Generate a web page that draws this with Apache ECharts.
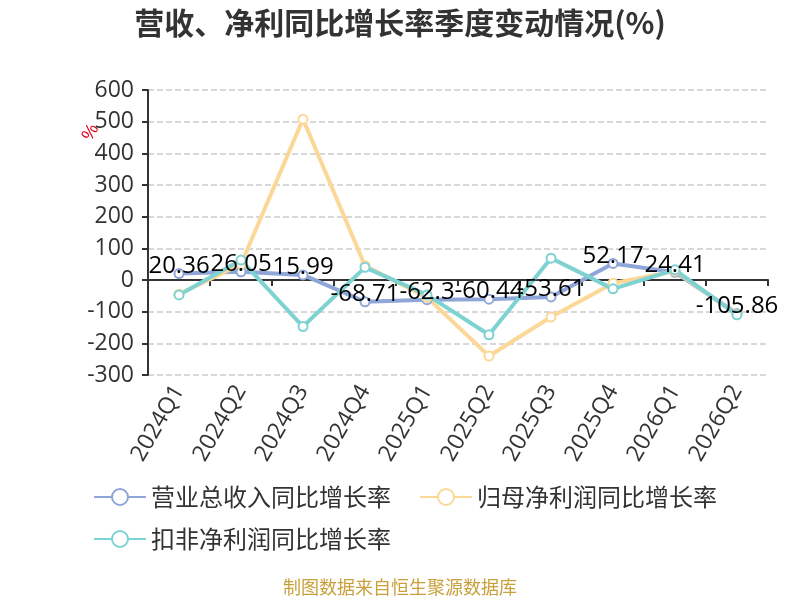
<!DOCTYPE html>
<html>
<head>
<meta charset="utf-8">
<script src="https://cdn.jsdelivr.net/npm/echarts@6/dist/echarts.min.js"></script>
<style>
html,body{margin:0;padding:0;background:#fff;}
#main{width:800px;height:600px;}
</style>
</head>
<body>
<div id="main"></div>
<script>
var quarters=['2024Q1','2024Q2','2024Q3','2024Q4','2025Q1','2025Q2','2025Q3','2025Q4','2026Q1','2026Q2'];
var revenueYoy=[20.36,26.05,15.99,-68.71,-62.3,-60.44,-53.61,52.17,24.41,-105.86];
var netProfitYoy=[-45,50,508,45,-55,-240,-117,-10,28,-108];
var deductedYoy=[-47,63,-147,40,-47,-173,69,-28,32,-110];
var yTicks={min:-300,max:600,interval:100};

var chart=echarts.init(document.getElementById('main'));

function lineSeries(name,data,color,showLabel){
	return {
		name:name,
		type:'line',
		data:data,
		symbol:'emptyCircle',
		symbolSize:9,
		lineStyle:{width:4,color:color},
		itemStyle:{color:color,borderWidth:1.5},
		label:{
			show:showLabel,
			position:'top',
			distance:-10,
			color:'#000',
			fontSize:24,
			fontFamily:'Open Sans'
		}
	};
}

var legendText={fontSize:24,color:'#333',fontFamily:'Noto Sans CJK SC'};

var option={
	animation:false,
	backgroundColor:'#fff',
	title:{
		text:'营收、净利同比增长率季度变动情况(%)',
		left:'center',
		top:3,
		textStyle:{fontSize:30,fontWeight:'bold',color:'#333',fontFamily:'Noto Sans CJK SC'}
	},
	legend:[
		{
			left:88,
			top:480,
			itemWidth:52,
			itemHeight:20,
			itemGap:28,
			textStyle:legendText,
			data:['营业总收入同比增长率','归母净利润同比增长率']
		},
		{
			left:88,
			top:522,
			itemWidth:52,
			itemHeight:20,
			textStyle:legendText,
			data:['扣非净利润同比增长率']
		}
	],
	grid:{left:148,right:32,top:90,bottom:225},
	xAxis:{
		type:'category',
		data:quarters,
		axisLine:{onZero:true,lineStyle:{color:'#333',width:2}},
		axisTick:{show:true,length:6,lineStyle:{color:'#333',width:2}},
		axisLabel:{rotate:60,fontSize:23,color:'#333',margin:12,fontFamily:'Open Sans'}
	},
	yAxis:{
		type:'value',
		min:yTicks.min,
		max:yTicks.max,
		interval:yTicks.interval,
		axisLine:{show:true,lineStyle:{color:'#333',width:2}},
		axisTick:{show:true,length:6,lineStyle:{color:'#333',width:2}},
		axisLabel:{fontSize:23,color:'#333',margin:14,fontFamily:'Open Sans'},
		splitLine:{lineStyle:{type:'dashed',color:'#ccc',width:1.5}}
	},
	graphic:[
		{type:'text',left:79,top:121,rotation:Math.PI/3,style:{text:'%',fill:'#e0001b',fontSize:18}},
		{type:'text',left:'center',top:578,style:{text:'制图数据来自恒生聚源数据库',fill:'#c8a03c',fontSize:18,fontFamily:'Noto Sans CJK SC'}}
	],
	series:[
		lineSeries('营业总收入同比增长率',revenueYoy,'#8fa6d9',true),
		lineSeries('归母净利润同比增长率',netProfitYoy,'#fcd898',false),
		lineSeries('扣非净利润同比增长率',deductedYoy,'#7fd2d2',false)
	]
};
chart.setOption(option);
</script>
</body>
</html>
